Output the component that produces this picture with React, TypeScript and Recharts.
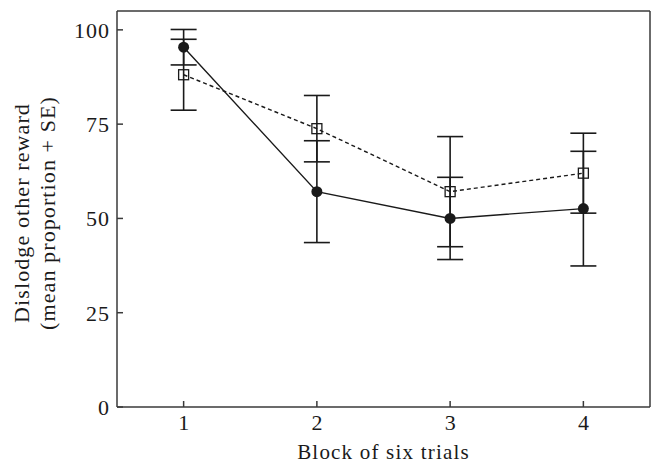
import { LineChart, Line, XAxis, YAxis, ErrorBar, ReferenceLine } from 'recharts';

const blocks = [1, 2, 3, 4];
const filledMean = [95.4, 57.1, 50.0, 52.6];
const filledSE = [4.7, 13.5, 10.9, 15.2];
const openMean = [88.1, 73.8, 57.1, 62.0];
const openSE = [9.4, 8.8, 14.6, 10.6];
const yTicks = [0, 25, 50, 75, 100];

const data = blocks.map((b, i) => ({
  block: b,
  filled: filledMean[i],
  filledErr: filledSE[i],
  open: openMean[i],
  openErr: openSE[i],
}));

const FONT = '"Liberation Serif", "Times New Roman", serif';
const INK = '#1a1a1a';
const AXIS = '#3a3a3a';

function SquareDot(props: any) {
  const { cx, cy, index } = props;
  if (cx == null || cy == null) return <g key={`sq-${index}`} />;
  return (
    <rect
      key={`sq-${index}`}
      x={cx - 5}
      y={cy - 5}
      width={10}
      height={10}
      fill="none"
      stroke={INK}
      strokeWidth={1.3}
    />
  );
}

function YLabel(props: any) {
  const vb = props.viewBox || { x: 0, y: 0, height: 0 };
  const cy = vb.y + vb.height / 2 + 4;
  const x1 = vb.x + 29;
  const x2 = vb.x + 55;
  return (
    <g fontFamily={FONT} fontSize={22} fill={INK} letterSpacing={1.1}>
      <text x={x1} y={cy} textAnchor="middle" transform={`rotate(-90 ${x1} ${cy})`}>
        Dislodge other reward
      </text>
      <text x={x2} y={cy} textAnchor="middle" transform={`rotate(-90 ${x2} ${cy})`}>
        (mean proportion + SE)
      </text>
    </g>
  );
}

export default function App() {
  return (
    <div style={{ position: 'absolute', left: 0, top: 0, background: '#fff' }}>
      <LineChart
        width={654}
        height={463}
        data={data}
        margin={{ top: 11, right: 4, bottom: 26, left: 0 }}
      >
        <XAxis
          dataKey="block"
          type="number"
          domain={[0.5, 4.5]}
          ticks={blocks}
          tickSize={-6}
          tickMargin={13}
          height={30}
          stroke={AXIS}
          strokeWidth={1.5}
          tick={{ fill: INK, fontSize: 22, fontFamily: FONT }}
          label={{
            value: 'Block of six trials',
            position: 'bottom',
            offset: 7,
            fill: INK,
            fontSize: 21,
            fontFamily: FONT,
            letterSpacing: 1.2,
          }}
        />
        <YAxis
          type="number"
          domain={[0, 105]}
          ticks={yTicks}
          tickSize={-6}
          tickMargin={13}
          width={117}
          stroke={AXIS}
          strokeWidth={1.5}
          tick={{ fill: INK, fontSize: 22, fontFamily: FONT, letterSpacing: 1 }}
          label={<YLabel />}
        />
        <ReferenceLine y={105} stroke={AXIS} strokeWidth={1.5} />
        <ReferenceLine x={4.5} stroke={AXIS} strokeWidth={1.5} />
        <Line
          dataKey="open"
          stroke={INK}
          strokeWidth={1.4}
          strokeDasharray="4 3"
          isAnimationActive={false}
          dot={<SquareDot />}
          activeDot={false}
        >
          <ErrorBar dataKey="openErr" direction="y" width={13} stroke={INK} strokeWidth={1.6} />
        </Line>
        <Line
          dataKey="filled"
          stroke={INK}
          strokeWidth={1.4}
          isAnimationActive={false}
          dot={{ r: 5.5, fill: INK, stroke: INK, strokeWidth: 0 }}
          activeDot={false}
        >
          <ErrorBar dataKey="filledErr" direction="y" width={13} stroke={INK} strokeWidth={1.6} />
        </Line>
      </LineChart>
    </div>
  );
}
